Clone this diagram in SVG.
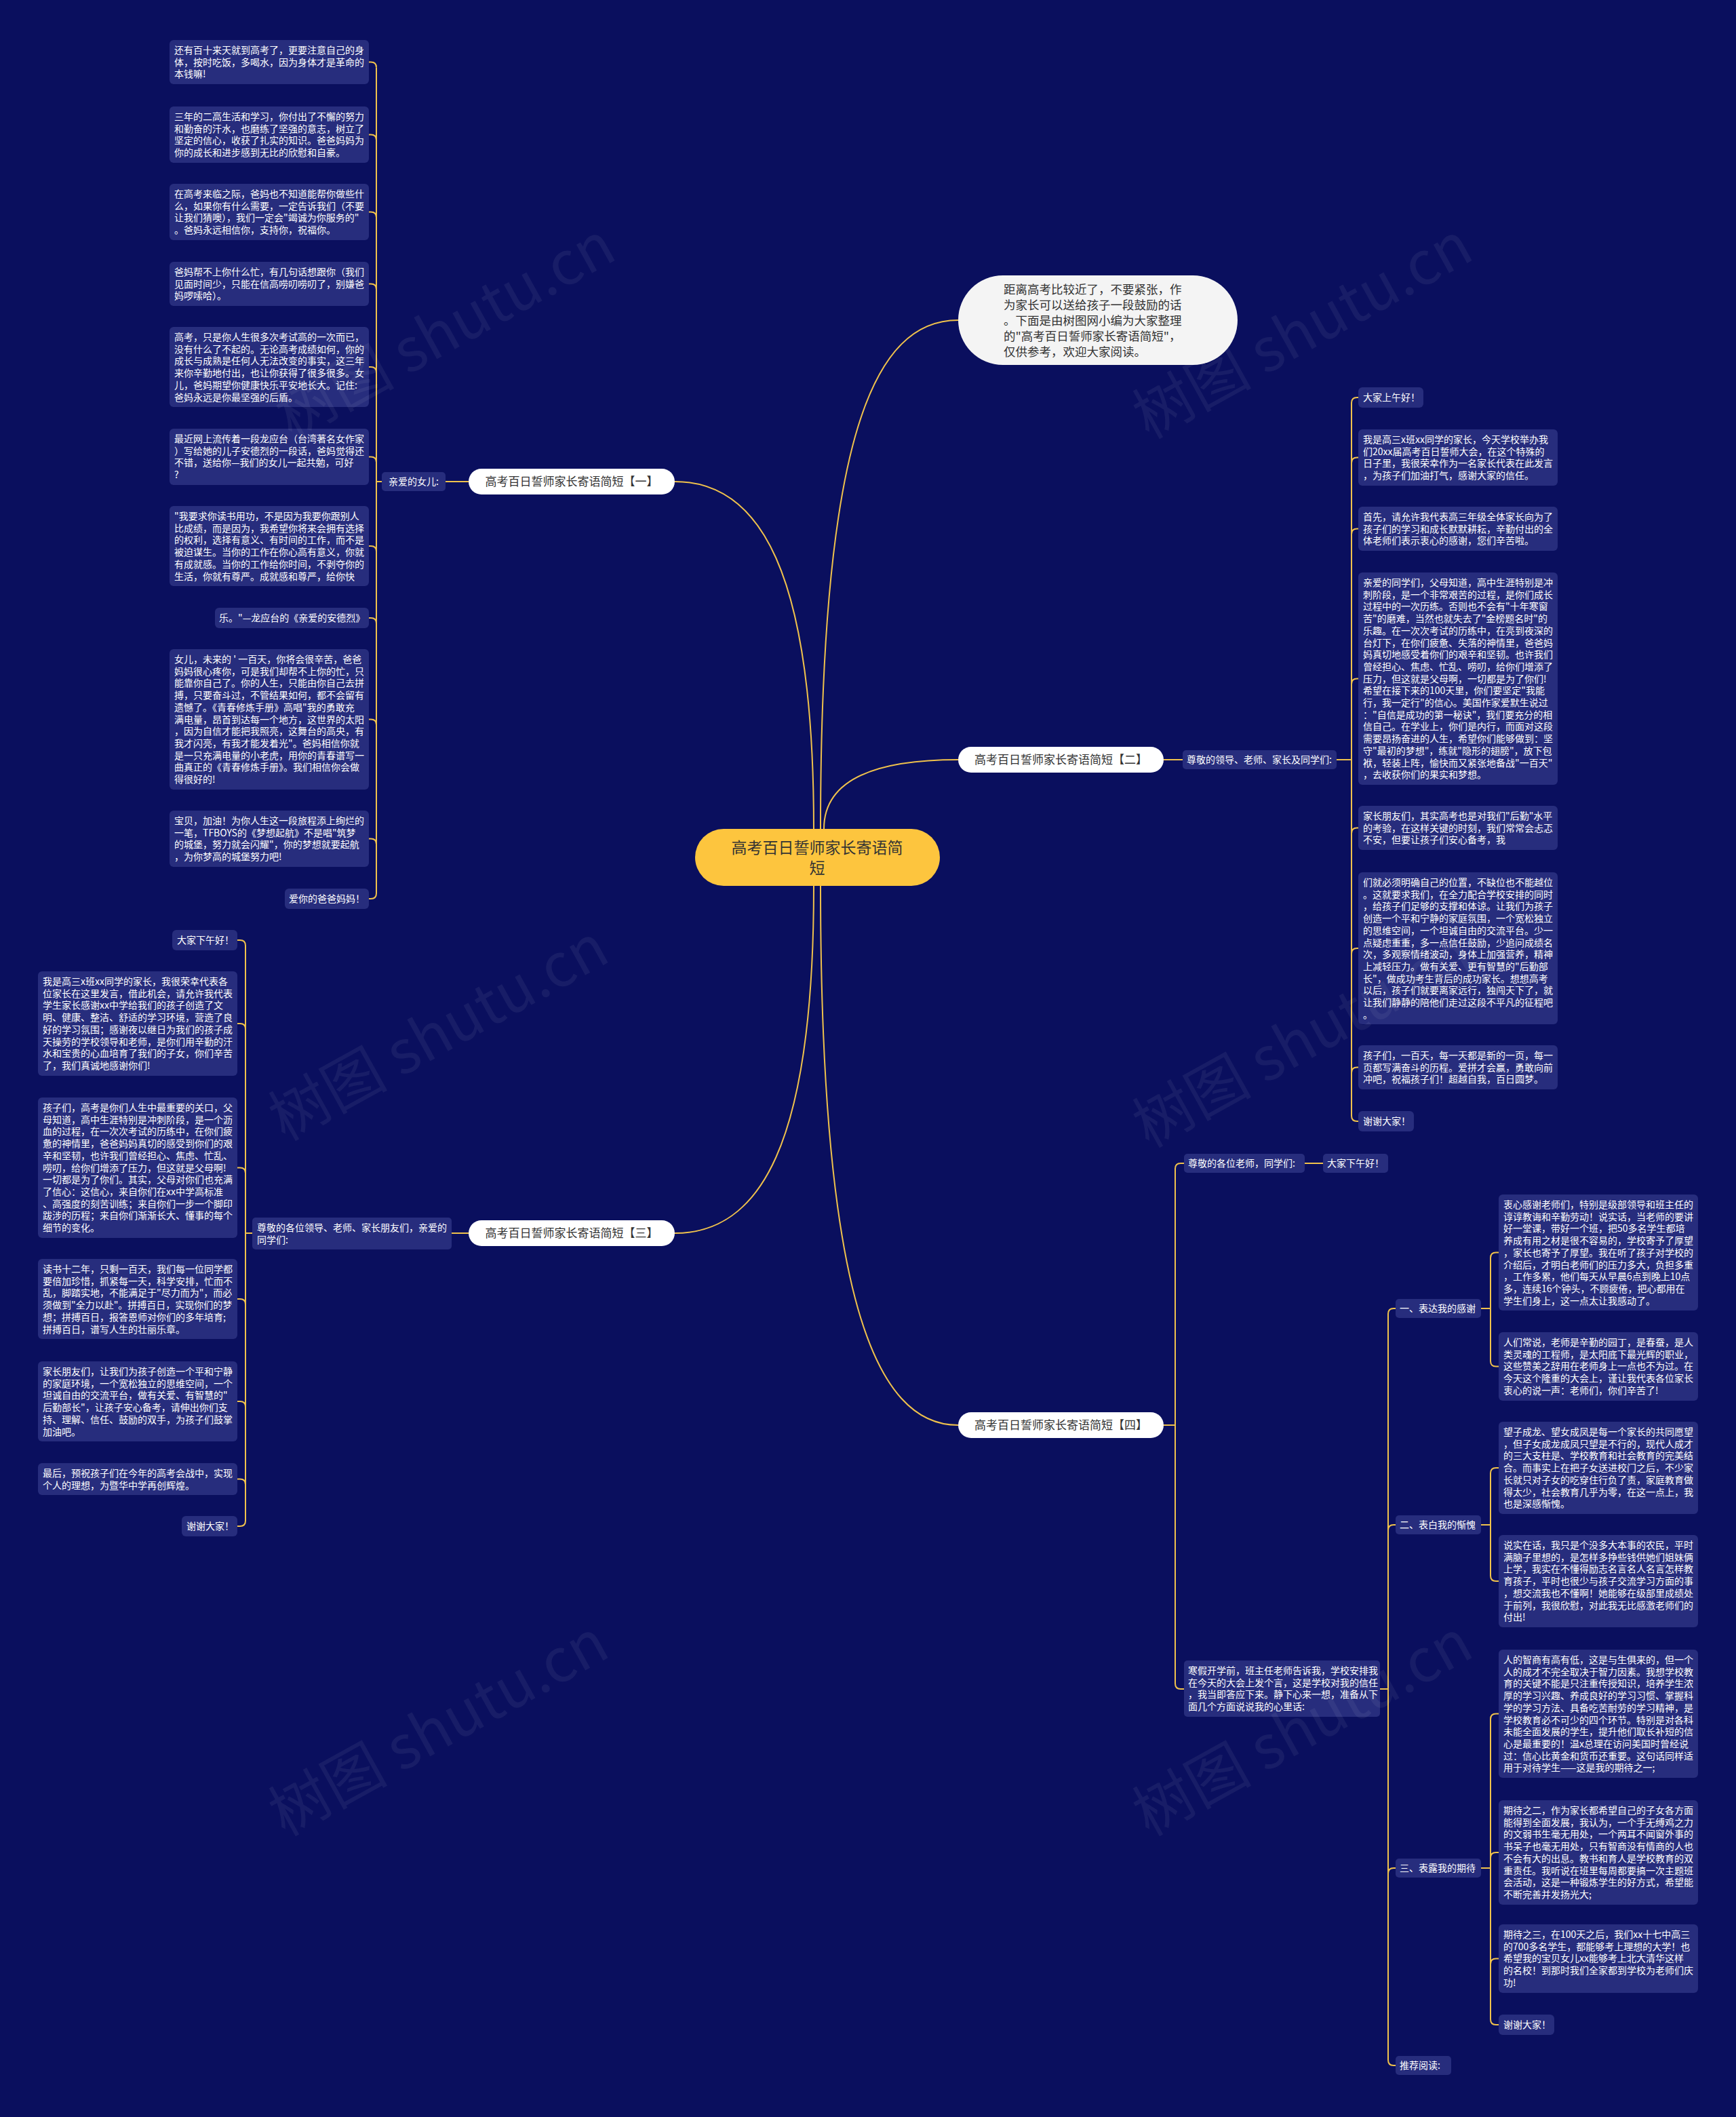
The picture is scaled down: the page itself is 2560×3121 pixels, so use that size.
<svg xmlns="http://www.w3.org/2000/svg" width="2560" height="3121" viewBox="0 0 2560 3121">
<style>
.t{font-family:"Noto Sans CJK SC","Noto Sans",sans-serif;font-size:14px;fill:#ffffff}
.b{fill:#272d7d}
.c{fill:none;stroke:#f0c24c;stroke-width:2}
.sec{fill:#ffffff}
.st{font-family:"Noto Sans CJK SC","Noto Sans",sans-serif;font-size:17px;fill:#333333;text-anchor:middle}
.wm{font-family:"Noto Sans CJK SC","Noto Sans",sans-serif;font-size:88px;fill:#ffffff;fill-opacity:0.06;text-anchor:middle}
</style>
<rect x="0" y="0" width="2560" height="3121" fill="#0a0f5e"/>

<g id="connectors">
<path class="c" d="M1200 1222 C1200 840 1120 710 995 710"/>
<path class="c" d="M1210 1222 C1210 640 1290 472 1413 472"/>
<path class="c" d="M1215 1222 C1215 1150 1290 1120 1413 1120"/>
<path class="c" d="M1200 1306 C1200 1690 1120 1818 995 1818"/>
<path class="c" d="M1210 1306 C1210 1910 1290 2101 1413 2101"/>
<!-- section 1 -->
<path class="c" d="M657 710 H691 M555 710 H563"/>
<path class="c" d="M555 99.5 V1317"/>
<path class="c" d="M555 99.5 Q555 91.5 547 91.5 H544 M555 206.5 Q555 198.5 547 198.5 H544 M555 320.5 Q555 312.5 547 312.5 H544 M555 426.5 Q555 418.5 547 418.5 H544 M555 549 Q555 541 547 541 H544 M555 681.5 Q555 673.5 547 673.5 H544 M555 813 Q555 805 547 805 H544 M555 919 Q555 911 547 911 H544 M555 1068.5 Q555 1060.5 547 1060.5 H544 M555 1244.5 Q555 1236.5 547 1236.5 H544 M555 1317 Q555 1325 547 1325 H544"/>
<!-- section 2 -->
<path class="c" d="M1716 1120 H1744 M1971 1120 H1993"/>
<path class="c" d="M1993 594 V1645"/>
<path class="c" d="M1993 594 Q1993 586 2001 586 H2003 M1993 682.5 Q1993 674.5 2001 674.5 H2003 M1993 787.5 Q1993 779.5 2001 779.5 H2003 M1993 1008.5 Q1993 1000.5 2001 1000.5 H2003 M1993 1228.5 Q1993 1220.5 2001 1220.5 H2003 M1993 1406 Q1993 1398 2001 1398 H2003 M1993 1581.5 Q1993 1573.5 2001 1573.5 H2003 M1993 1645 Q1993 1653 2001 1653 H2003"/>
<!-- section 3 -->
<path class="c" d="M691 1818 H666 M372 1818 H362"/>
<path class="c" d="M362 1394 V2242"/>
<path class="c" d="M362 1394 Q362 1386 354 1386 H350 M362 1517 Q362 1509 354 1509 H350 M362 1729.5 Q362 1721.5 354 1721.5 H350 M362 1923 Q362 1915 354 1915 H350 M362 2074 Q362 2066 354 2066 H350 M362 2188.5 Q362 2180.5 354 2180.5 H350 M362 2242 Q362 2250 354 2250 H350"/>
<!-- section 4 -->
<path class="c" d="M1716 2101 H1733 M1733 1723 V2482 M1733 1723 Q1733 1715 1741 1715 H1746 M1733 2482 Q1733 2490 1741 2490 H1746"/>
<path class="c" d="M1924 1715 H1951"/>
<path class="c" d="M2035 2490 H2047 M2047 1937 V3037 M2047 1937 Q2047 1929 2055 1929 H2058 M2047 2256 Q2047 2248 2055 2248 H2058 M2047 2762 Q2047 2754 2055 2754 H2058 M2047 3037 Q2047 3045 2055 3045 H2058"/>
<path class="c" d="M2184 1929 H2198 M2198 1854.5 V2006.5 M2198 1854.5 Q2198 1846.5 2206 1846.5 H2210 M2198 2006.5 Q2198 2014.5 2206 2014.5 H2210"/>
<path class="c" d="M2184 2248 H2198 M2198 2172 V2323 M2198 2172 Q2198 2164 2206 2164 H2210 M2198 2323 Q2198 2331 2206 2331 H2210"/>
<path class="c" d="M2184 2754 H2198 M2198 2534.5 V2977 M2198 2534.5 Q2198 2526.5 2206 2526.5 H2210 M2198 2739 Q2198 2731 2206 2731 H2210 M2198 2895.5 Q2198 2887.5 2206 2887.5 H2210 M2198 2977 Q2198 2985 2206 2985 H2210"/>
</g>

<g id="center">
<rect x="1025" y="1222" width="361" height="84" rx="42" fill="#fdc53e"/>
<text style="font-family:'Noto Sans CJK SC','Noto Sans',sans-serif;font-size:23px;fill:#333333;text-anchor:middle"><tspan x="1205" y="1258">高考百日誓师家长寄语简</tspan><tspan x="1205" y="1288">短</tspan></text>
</g>

<g id="intro">
<rect x="1413" y="406" width="412" height="132" rx="66" fill="#f4f4f4"/>
<text style="font-family:'Noto Sans CJK SC','Noto Sans',sans-serif;font-size:17.5px;fill:#333333"><tspan x="1480" y="433">距离高考比较近了，不要紧张，作</tspan><tspan x="1480" y="456">为家长可以送给孩子一段鼓励的话</tspan><tspan x="1480" y="479">。下面是由树图网小编为大家整理</tspan><tspan x="1480" y="502">的"高考百日誓师家长寄语简短"，</tspan><tspan x="1480" y="525">仅供参考，欢迎大家阅读。</tspan></text>
</g>

<!-- Section 1 -->
<g id="sec1">
<rect class="sec" x="691" y="691" width="304" height="38" rx="19"/>
<text class="st" x="843" y="716">高考百日誓师家长寄语简短【一】</text>
</g>
<g id="sec1-label"><rect class="b" x="563" y="696" width="94" height="28" rx="5"/><text class="t" x="610" y="715" text-anchor="middle">亲爱的女儿:</text></g>
<g id="s1b1"><rect class="b" x="250" y="59" width="294" height="65" rx="6"/><text class="t"><tspan x="257" y="79">还有百十来天就到高考了，更要注意自己的身</tspan><tspan x="257" y="96.7">体，按时吃饭，多喝水，因为身体才是革命的</tspan><tspan x="257" y="114.4">本钱嘛!</tspan></text></g>
<g id="s1b2"><rect class="b" x="250" y="157" width="294" height="83" rx="6"/><text class="t"><tspan x="257" y="177">三年的二高生活和学习，你付出了不懈的努力</tspan><tspan x="257" y="194.7">和勤奋的汗水，也磨练了坚强的意志，树立了</tspan><tspan x="257" y="212.4">坚定的信心，收获了扎实的知识。爸爸妈妈为</tspan><tspan x="257" y="230.1">你的成长和进步感到无比的欣慰和自豪。</tspan></text></g>
<g id="s1b3"><rect class="b" x="250" y="271" width="294" height="83" rx="6"/><text class="t"><tspan x="257" y="291">在高考来临之际，爸妈也不知道能帮你做些什</tspan><tspan x="257" y="308.7">么，如果你有什么需要，一定告诉我们（不要</tspan><tspan x="257" y="326.4">让我们猜噢），我们一定会"竭诚为你服务的"</tspan><tspan x="257" y="344.1">。爸妈永远相信你，支持你，祝福你。</tspan></text></g>
<g id="s1b4"><rect class="b" x="250" y="386" width="294" height="65" rx="6"/><text class="t"><tspan x="257" y="406">爸妈帮不上你什么忙，有几句话想跟你（我们</tspan><tspan x="257" y="423.7">见面时间少，只能在信高唠叨唠叨了，别嫌爸</tspan><tspan x="257" y="441.4">妈啰嗦哈）。</tspan></text></g>
<g id="s1b5"><rect class="b" x="250" y="482" width="294" height="118" rx="6"/><text class="t"><tspan x="257" y="502">高考，只是你人生很多次考试高的一次而已，</tspan><tspan x="257" y="519.7">没有什么了不起的。无论高考成绩如何，你的</tspan><tspan x="257" y="537.4">成长与成熟是任何人无法改变的事实，这三年</tspan><tspan x="257" y="555.1">来你辛勤地付出，也让你获得了很多很多。女</tspan><tspan x="257" y="572.8">儿，爸妈期望你健康快乐平安地长大。记住:</tspan><tspan x="257" y="590.5">爸妈永远是你最坚强的后盾。</tspan></text></g>
<g id="s1b6"><rect class="b" x="250" y="632" width="294" height="83" rx="6"/><text class="t"><tspan x="257" y="652">最近网上流传着一段龙应台（台湾著名女作家</tspan><tspan x="257" y="669.7">）写给她的儿子安德烈的一段话，爸妈觉得还</tspan><tspan x="257" y="687.4">不错，送给你—我们的女儿一起共勉，可好</tspan><tspan x="257" y="705.1">?</tspan></text></g>
<g id="s1b7"><rect class="b" x="250" y="746" width="294" height="118" rx="6"/><text class="t"><tspan x="257" y="766">"我要求你读书用功，不是因为我要你跟别人</tspan><tspan x="257" y="783.7">比成绩，而是因为，我希望你将来会拥有选择</tspan><tspan x="257" y="801.4">的权利，选择有意义、有时间的工作，而不是</tspan><tspan x="257" y="819.1">被迫谋生。当你的工作在你心高有意义，你就</tspan><tspan x="257" y="836.8">有成就感。当你的工作给你时间，不剥夺你的</tspan><tspan x="257" y="854.5">生活，你就有尊严。成就感和尊严，给你快</tspan></text></g>
<g id="s1b8"><rect class="b" x="317" y="896" width="227" height="30" rx="6"/><text class="t" x="323" y="916">乐。"—龙应台的《亲爱的安德烈》</text></g>
<g id="s1b9"><rect class="b" x="250" y="957" width="294" height="207" rx="6"/><text class="t"><tspan x="257" y="977">女儿，未来的 ' 一百天，你将会很辛苦，爸爸</tspan><tspan x="257" y="994.7">妈妈很心疼你，可是我们却帮不上你的忙，只</tspan><tspan x="257" y="1012.4">能靠你自己了。你的人生，只能由你自己去拼</tspan><tspan x="257" y="1030.1">搏，只要奋斗过，不管结果如何，都不会留有</tspan><tspan x="257" y="1047.8">遗憾了。《青春修炼手册》高唱"我的勇敢充</tspan><tspan x="257" y="1065.5">满电量，昂首到达每一个地方，这世界的太阳</tspan><tspan x="257" y="1083.2">，因为自信才能把我照亮，这舞台的高央，有</tspan><tspan x="257" y="1100.9">我才闪亮，有我才能发着光"。爸妈相信你就</tspan><tspan x="257" y="1118.6">是一只充满电量的小老虎，用你的青春谱写一</tspan><tspan x="257" y="1136.3">曲真正的《青春修炼手册》。我们相信你会做</tspan><tspan x="257" y="1154">得很好的!</tspan></text></g>
<g id="s1b10"><rect class="b" x="250" y="1195" width="294" height="83" rx="6"/><text class="t"><tspan x="257" y="1215">宝贝，加油！为你人生这一段旅程添上绚烂的</tspan><tspan x="257" y="1232.7">一笔，TFBOYS的《梦想起航》不是唱"筑梦</tspan><tspan x="257" y="1250.4">的城堡，努力就会闪耀"，你的梦想就要起航</tspan><tspan x="257" y="1268.1">，为你梦高的城堡努力吧!</tspan></text></g>
<g id="s1b11"><rect class="b" x="420" y="1310" width="124" height="30" rx="6"/><text class="t" x="426" y="1330">爱你的爸爸妈妈！</text></g>

<!-- Section 2 -->
<g id="sec2">
<rect class="sec" x="1413" y="1101" width="303" height="38" rx="19"/>
<text class="st" x="1564.5" y="1126">高考百日誓师家长寄语简短【二】</text>
</g>
<g id="sec2-label"><rect class="b" x="1744" y="1106" width="227" height="28" rx="5"/><text class="t" x="1750" y="1125">尊敬的领导、老师、家长及同学们:</text></g>
<g id="s2b1"><rect class="b" x="2003" y="571" width="96" height="30" rx="6"/><text class="t" x="2010" y="591">大家上午好！</text></g>
<g id="s2b2"><rect class="b" x="2003" y="633" width="294" height="83" rx="6"/><text class="t"><tspan x="2010" y="653">我是高三x班xx同学的家长，今天学校举办我</tspan><tspan x="2010" y="670.7">们20xx届高考百日誓师大会，在这个特殊的</tspan><tspan x="2010" y="688.4">日子里，我很荣幸作为一名家长代表在此发言</tspan><tspan x="2010" y="706.1">，为孩子们加油打气，感谢大家的信任。</tspan></text></g>
<g id="s2b3"><rect class="b" x="2003" y="747" width="294" height="65" rx="6"/><text class="t"><tspan x="2010" y="767">首先，请允许我代表高三年级全体家长向为了</tspan><tspan x="2010" y="784.7">孩子们的学习和成长默默耕耘，辛勤付出的全</tspan><tspan x="2010" y="802.4">体老师们表示衷心的感谢，您们辛苦啦。</tspan></text></g>
<g id="s2b4"><rect class="b" x="2003" y="844" width="294" height="313" rx="6"/><text class="t"><tspan x="2010" y="864">亲爱的同学们，父母知道，高中生涯特别是冲</tspan><tspan x="2010" y="881.7">刺阶段，是一个非常艰苦的过程，是你们成长</tspan><tspan x="2010" y="899.4">过程中的一次历练。否则也不会有"十年寒窗</tspan><tspan x="2010" y="917.1">苦"的磨难，当然也就失去了"金榜题名时"的</tspan><tspan x="2010" y="934.8">乐趣。在一次次考试的历练中，在亮到夜深的</tspan><tspan x="2010" y="952.5">台灯下，在你们疲惫、失落的神情里，爸爸妈</tspan><tspan x="2010" y="970.2">妈真切地感受着你们的艰辛和坚韧。也许我们</tspan><tspan x="2010" y="987.9">曾经担心、焦虑、忙乱、唠叨，给你们增添了</tspan><tspan x="2010" y="1005.6">压力，但这就是父母啊，一切都是为了你们!</tspan><tspan x="2010" y="1023.3">希望在接下来的100天里，你们要坚定"我能</tspan><tspan x="2010" y="1041">行，我一定行"的信心。美国作家爱默生说过</tspan><tspan x="2010" y="1058.7">："自信是成功的第一秘诀"，我们要充分的相</tspan><tspan x="2010" y="1076.4">信自己。在学业上，你们是内行，而面对这段</tspan><tspan x="2010" y="1094.1">需要昂扬奋进的人生，希望你们能够做到：坚</tspan><tspan x="2010" y="1111.8">守"最初的梦想"，练就"隐形的翅膀"，放下包</tspan><tspan x="2010" y="1129.5">袱，轻装上阵，愉快而又紧张地备战"一百天"</tspan><tspan x="2010" y="1147.2">，去收获你们的果实和梦想。</tspan></text></g>
<g id="s2b5"><rect class="b" x="2003" y="1188" width="294" height="65" rx="6"/><text class="t"><tspan x="2010" y="1208">家长朋友们，其实高考也是对我们"后勤"水平</tspan><tspan x="2010" y="1225.7">的考验，在这样关键的时刻，我们常常会忐忑</tspan><tspan x="2010" y="1243.4">不安，但要让孩子们安心备考，我</tspan></text></g>
<g id="s2b6"><rect class="b" x="2003" y="1286" width="294" height="224" rx="6"/><text class="t"><tspan x="2010" y="1306">们就必须明确自己的位置，不缺位也不能越位</tspan><tspan x="2010" y="1323.7">。这就要求我们，在全力配合学校安排的同时</tspan><tspan x="2010" y="1341.4">，给孩子们足够的支撑和体谅。让我们为孩子</tspan><tspan x="2010" y="1359.1">创造一个平和宁静的家庭氛围，一个宽松独立</tspan><tspan x="2010" y="1376.8">的思维空间，一个坦诚自由的交流平台。少一</tspan><tspan x="2010" y="1394.5">点疑虑重重，多一点信任鼓励，少追问成绩名</tspan><tspan x="2010" y="1412.2">次，多观察情绪波动，身体上加强营养，精神</tspan><tspan x="2010" y="1429.9">上减轻压力。做有关爱、更有智慧的"后勤部</tspan><tspan x="2010" y="1447.6">长"，做成功考生背后的成功家长。想想高考</tspan><tspan x="2010" y="1465.3">以后，孩子们就要离家远行，独闯天下了，就</tspan><tspan x="2010" y="1483">让我们静静的陪他们走过这段不平凡的征程吧</tspan><tspan x="2010" y="1500.7">。</tspan></text></g>
<g id="s2b7"><rect class="b" x="2003" y="1541" width="294" height="65" rx="6"/><text class="t"><tspan x="2010" y="1561">孩子们，一百天，每一天都是新的一页，每一</tspan><tspan x="2010" y="1578.7">页都写满奋斗的历程。爱拼才会赢，勇敢向前</tspan><tspan x="2010" y="1596.4">冲吧，祝福孩子们！超越自我，百日圆梦。</tspan></text></g>
<g id="s2b8"><rect class="b" x="2003" y="1638" width="82" height="30" rx="6"/><text class="t" x="2010" y="1658">谢谢大家！</text></g>

<!-- Section 3 -->
<g id="sec3">
<rect class="sec" x="691" y="1799" width="304" height="38" rx="19"/>
<text class="st" x="843" y="1824">高考百日誓师家长寄语简短【三】</text>
</g>
<g id="sec3-label"><rect class="b" x="372" y="1795" width="294" height="47" rx="5"/><text class="t"><tspan x="379" y="1815">尊敬的各位领导、老师、家长朋友们，亲爱的</tspan><tspan x="379" y="1832.7">同学们:</tspan></text></g>
<g id="s3b1"><rect class="b" x="254" y="1371" width="96" height="30" rx="6"/><text class="t" x="261" y="1391">大家下午好！</text></g>
<g id="s3b2"><rect class="b" x="56" y="1432" width="294" height="154" rx="6"/><text class="t"><tspan x="63" y="1452">我是高三x班xx同学的家长，我很荣幸代表各</tspan><tspan x="63" y="1469.7">位家长在这里发言，借此机会，请允许我代表</tspan><tspan x="63" y="1487.4">学生家长感谢xx中学给我们的孩子创造了文</tspan><tspan x="63" y="1505.1">明、健康、整洁、舒适的学习环境，营造了良</tspan><tspan x="63" y="1522.8">好的学习氛围；感谢夜以继日为我们的孩子成</tspan><tspan x="63" y="1540.5">天操劳的学校领导和老师，是你们用辛勤的汗</tspan><tspan x="63" y="1558.2">水和宝贵的心血培育了我们的子女，你们辛苦</tspan><tspan x="63" y="1575.9">了，我们真诚地感谢你们!</tspan></text></g>
<g id="s3b3"><rect class="b" x="56" y="1618" width="294" height="207" rx="6"/><text class="t"><tspan x="63" y="1638">孩子们，高考是你们人生中最重要的关口，父</tspan><tspan x="63" y="1655.7">母知道，高中生涯特别是冲刺阶段，是一个沥</tspan><tspan x="63" y="1673.4">血的过程，在一次次考试的历练中，在你们疲</tspan><tspan x="63" y="1691.1">惫的神情里，爸爸妈妈真切的感受到你们的艰</tspan><tspan x="63" y="1708.8">辛和坚韧，也许我们曾经担心、焦虑、忙乱、</tspan><tspan x="63" y="1726.5">唠叨，给你们增添了压力，但这就是父母啊!</tspan><tspan x="63" y="1744.2">一切都是为了你们。其实，父母对你们也充满</tspan><tspan x="63" y="1761.9">了信心：这信心，来自你们在xx中学高标准</tspan><tspan x="63" y="1779.6">、高强度的刻苦训练；来自你们一步一个脚印</tspan><tspan x="63" y="1797.3">跋涉的历程；来自你们渐渐长大、懂事的每个</tspan><tspan x="63" y="1815">细节的变化。</tspan></text></g>
<g id="s3b4"><rect class="b" x="56" y="1856" width="294" height="118" rx="6"/><text class="t"><tspan x="63" y="1876">读书十二年，只剩一百天，我们每一位同学都</tspan><tspan x="63" y="1893.7">要倍加珍惜，抓紧每一天，科学安排，忙而不</tspan><tspan x="63" y="1911.4">乱，脚踏实地，不能满足于"尽力而为"，而必</tspan><tspan x="63" y="1929.1">须做到"全力以赴"。拼搏百日，实现你们的梦</tspan><tspan x="63" y="1946.8">想；拼搏百日，报答恩师对你们的多年培育;</tspan><tspan x="63" y="1964.5">拼搏百日，谱写人生的壮丽乐章。</tspan></text></g>
<g id="s3b5"><rect class="b" x="56" y="2007" width="294" height="118" rx="6"/><text class="t"><tspan x="63" y="2027">家长朋友们，让我们为孩子创造一个平和宁静</tspan><tspan x="63" y="2044.7">的家庭环境，一个宽松独立的思维空间，一个</tspan><tspan x="63" y="2062.4">坦诚自由的交流平台，做有关爱、有智慧的"</tspan><tspan x="63" y="2080.1">后勤部长"，让孩子安心备考，请伸出你们支</tspan><tspan x="63" y="2097.8">持、理解、信任、鼓励的双手，为孩子们鼓掌</tspan><tspan x="63" y="2115.5">加油吧。</tspan></text></g>
<g id="s3b6"><rect class="b" x="56" y="2157" width="294" height="47" rx="6"/><text class="t"><tspan x="63" y="2177">最后，预祝孩子们在今年的高考会战中，实现</tspan><tspan x="63" y="2194.7">个人的理想，为暨华中学再创辉煌。</tspan></text></g>
<g id="s3b7"><rect class="b" x="268" y="2235" width="82" height="30" rx="6"/><text class="t" x="275" y="2255">谢谢大家！</text></g>

<!-- Section 4 -->
<g id="sec4">
<rect class="sec" x="1413" y="2082" width="303" height="38" rx="19"/>
<text class="st" x="1564.5" y="2107">高考百日誓师家长寄语简短【四】</text>
</g>
<g id="s4l1"><rect class="b" x="1746" y="1701" width="178" height="28" rx="5"/><text class="t" x="1752" y="1720">尊敬的各位老师，同学们:</text></g>
<g id="s4l1c"><rect class="b" x="1951" y="1701" width="96" height="28" rx="5"/><text class="t" x="1957" y="1720">大家下午好！</text></g>
<g id="s4l2"><rect class="b" x="1746" y="2448" width="289" height="83" rx="5"/><text class="t"><tspan x="1752" y="2468">寒假开学前，班主任老师告诉我，学校安排我</tspan><tspan x="1752" y="2485.7">在今天的大会上发个言，这是学校对我的信任</tspan><tspan x="1752" y="2503.4">，我当即答应下来。静下心来一想，准备从下</tspan><tspan x="1752" y="2521.1">面几个方面说说我的心里话:</tspan></text></g>
<g id="s4s1"><rect class="b" x="2058" y="1915" width="126" height="28" rx="5"/><text class="t" x="2064" y="1934">一、表达我的感谢</text></g>
<g id="s4s2"><rect class="b" x="2058" y="2234" width="126" height="28" rx="5"/><text class="t" x="2064" y="2253">二、表白我的惭愧</text></g>
<g id="s4s3"><rect class="b" x="2058" y="2740" width="126" height="28" rx="5"/><text class="t" x="2064" y="2759">三、表露我的期待</text></g>
<g id="s4s4"><rect class="b" x="2058" y="3031" width="82" height="28" rx="5"/><text class="t" x="2064" y="3050">推荐阅读:</text></g>
<g id="s4e1"><rect class="b" x="2210" y="1761" width="294" height="171" rx="6"/><text class="t"><tspan x="2217" y="1781">衷心感谢老师们，特别是级部领导和班主任的</tspan><tspan x="2217" y="1798.7">谆谆教诲和辛勤劳动！说实话，当老师的要讲</tspan><tspan x="2217" y="1816.4">好一堂课，带好一个班，把50多名学生都培</tspan><tspan x="2217" y="1834.1">养成有用之材是很不容易的，学校寄予了厚望</tspan><tspan x="2217" y="1851.8">，家长也寄予了厚望。我在听了孩子对学校的</tspan><tspan x="2217" y="1869.5">介绍后，才明白老师们的压力多大，负担多重</tspan><tspan x="2217" y="1887.2">，工作多累，他们每天从早晨6点到晚上10点</tspan><tspan x="2217" y="1904.9">多，连续16个钟头，不顾疲倦，把心都用在</tspan><tspan x="2217" y="1922.6">学生们身上，这一点太让我感动了。</tspan></text></g>
<g id="s4e2"><rect class="b" x="2210" y="1964" width="294" height="101" rx="6"/><text class="t"><tspan x="2217" y="1984">人们常说，老师是辛勤的园丁，是春蚕，是人</tspan><tspan x="2217" y="2001.7">类灵魂的工程师，是太阳底下最光辉的职业，</tspan><tspan x="2217" y="2019.4">这些赞美之辞用在老师身上一点也不为过。在</tspan><tspan x="2217" y="2037.1">今天这个隆重的大会上，谨让我代表各位家长</tspan><tspan x="2217" y="2054.8">衷心的说一声：老师们，你们辛苦了!</tspan></text></g>
<g id="s4f1"><rect class="b" x="2210" y="2096" width="294" height="136" rx="6"/><text class="t"><tspan x="2217" y="2116">望子成龙、望女成凤是每一个家长的共同愿望</tspan><tspan x="2217" y="2133.7">，但子女成龙成凤只望是不行的，现代人成才</tspan><tspan x="2217" y="2151.4">的三大支柱是、学校教育和社会教育的完美结</tspan><tspan x="2217" y="2169.1">合。而事实上在把子女送进校门之后，不少家</tspan><tspan x="2217" y="2186.8">长就只对子女的吃穿住行负了责，家庭教育做</tspan><tspan x="2217" y="2204.5">得太少，社会教育几乎为零，在这一点上，我</tspan><tspan x="2217" y="2222.2">也是深感惭愧。</tspan></text></g>
<g id="s4f2"><rect class="b" x="2210" y="2263" width="294" height="136" rx="6"/><text class="t"><tspan x="2217" y="2283">说实在话，我只是个没多大本事的农民，平时</tspan><tspan x="2217" y="2300.7">满脑子里想的，是怎样多挣些钱供她们姐妹俩</tspan><tspan x="2217" y="2318.4">上学，我实在不懂得励志名言名人名言怎样教</tspan><tspan x="2217" y="2336.1">育孩子，平时也很少与孩子交流学习方面的事</tspan><tspan x="2217" y="2353.8">，想交流我也不懂啊！她能够在级部里成绩处</tspan><tspan x="2217" y="2371.5">于前列，我很欣慰，对此我无比感激老师们的</tspan><tspan x="2217" y="2389.2">付出!</tspan></text></g>
<g id="s4g1"><rect class="b" x="2210" y="2432" width="294" height="189" rx="6"/><text class="t"><tspan x="2217" y="2452">人的智商有高有低，这是与生俱来的，但一个</tspan><tspan x="2217" y="2469.7">人的成才不完全取决于智力因素。我想学校教</tspan><tspan x="2217" y="2487.4">育的关键不能是只注重传授知识，培养学生浓</tspan><tspan x="2217" y="2505.1">厚的学习兴趣、养成良好的学习习惯、掌握科</tspan><tspan x="2217" y="2522.8">学的学习方法、具备吃苦耐劳的学习精神，是</tspan><tspan x="2217" y="2540.5">学校教育必不可少的四个环节。特别是对各科</tspan><tspan x="2217" y="2558.2">未能全面发展的学生，提升他们取长补短的信</tspan><tspan x="2217" y="2575.9">心是最重要的！温x总理在访问美国时曾经说</tspan><tspan x="2217" y="2593.6">过：信心比黄金和货币还重要。这句话同样适</tspan><tspan x="2217" y="2611.3">用于对待学生——这是我的期待之一;</tspan></text></g>
<g id="s4g2"><rect class="b" x="2210" y="2654" width="294" height="154" rx="6"/><text class="t"><tspan x="2217" y="2674">期待之二，作为家长都希望自己的子女各方面</tspan><tspan x="2217" y="2691.7">能得到全面发展，我认为，一个手无缚鸡之力</tspan><tspan x="2217" y="2709.4">的文弱书生毫无用处，一个两耳不闻窗外事的</tspan><tspan x="2217" y="2727.1">书呆子也毫无用处，只有智商没有情商的人也</tspan><tspan x="2217" y="2744.8">不会有大的出息。教书和育人是学校教育的双</tspan><tspan x="2217" y="2762.5">重责任。我听说在班里每周都要搞一次主题班</tspan><tspan x="2217" y="2780.2">会活动，这是一种锻炼学生的好方式，希望能</tspan><tspan x="2217" y="2797.9">不断完善并发扬光大;</tspan></text></g>
<g id="s4g3"><rect class="b" x="2210" y="2837" width="294" height="101" rx="6"/><text class="t"><tspan x="2217" y="2857">期待之三，在100天之后，我们xx十七中高三</tspan><tspan x="2217" y="2874.7">的700多名学生，都能够考上理想的大学！也</tspan><tspan x="2217" y="2892.4">希望我的宝贝女儿xx能够考上北大清华这样</tspan><tspan x="2217" y="2910.1">的名校！到那时我们全家都到学校为老师们庆</tspan><tspan x="2217" y="2927.8">功!</tspan></text></g>
<g id="s4g4"><rect class="b" x="2210" y="2970" width="82" height="30" rx="6"/><text class="t" x="2217" y="2990">谢谢大家！</text></g>

<g id="watermarks">
<text class="wm" x="657" y="518" transform="rotate(-29 657 488)">树图 shutu.cn</text>
<text class="wm" x="1921" y="518" transform="rotate(-29 1921 488)">树图 shutu.cn</text>
<text class="wm" x="647" y="1553" transform="rotate(-29 647 1523)">树图 shutu.cn</text>
<text class="wm" x="1921" y="1563" transform="rotate(-29 1921 1533)">树图 shutu.cn</text>
<text class="wm" x="647" y="2578" transform="rotate(-29 647 2548)">树图 shutu.cn</text>
<text class="wm" x="1921" y="2578" transform="rotate(-29 1921 2548)">树图 shutu.cn</text>
</g>
</svg>
